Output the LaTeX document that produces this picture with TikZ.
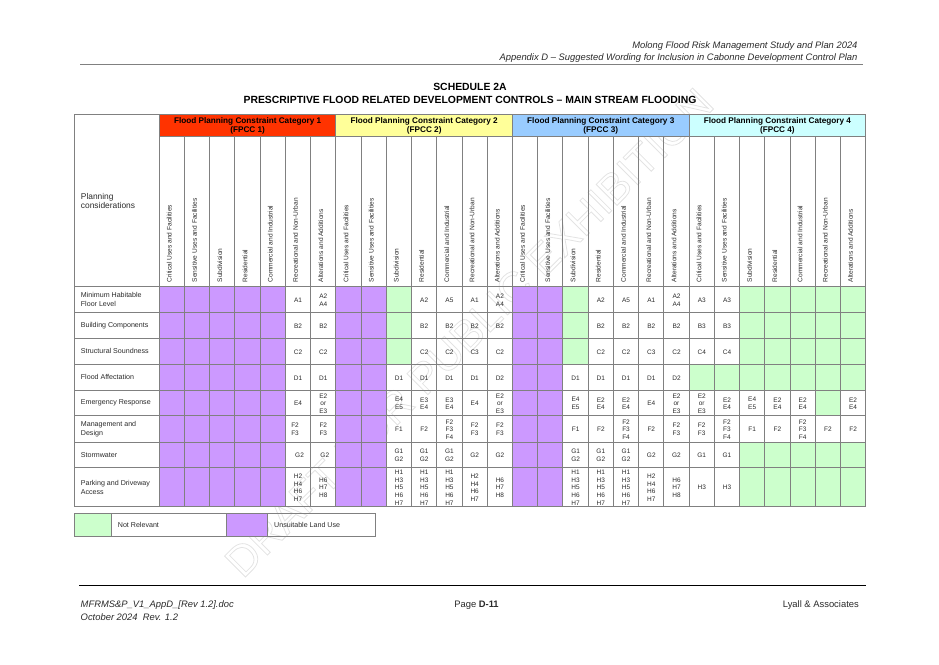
\documentclass[tikz,border=0pt]{standalone}
\usepackage{fontspec}
\setmainfont{Liberation Sans}
\definecolor{unsuit}{HTML}{CC99FF}
\definecolor{notrel}{HTML}{CCFFCC}
\definecolor{catone}{HTML}{FF3300}
\definecolor{cattwo}{HTML}{FFFF99}
\definecolor{catthree}{HTML}{99CCFF}
\definecolor{catfour}{HTML}{CCFFFF}
\definecolor{gridgray}{HTML}{808080}
\definecolor{inkgray}{HTML}{2A2A2A}
\tikzset{
    cellnode/.style={inner sep=0pt, align=center, text=inkgray, font=\fontsize{6.5}{7.7}\selectfont},
    usenode/.style={inner sep=0pt, rotate=90, anchor=west, text=inkgray, font=\fontsize{6.6}{8}\selectfont},
    rownode/.style={inner sep=0pt, anchor=west, align=left, text=inkgray, font=\fontsize{7.1}{9}\selectfont},
    catnode/.style={inner sep=0pt, align=center, font=\bfseries\fontsize{8.2}{9}\selectfont},
    titlenode/.style={inner sep=0pt, font=\bfseries\fontsize{10.4}{13}\selectfont},
    headnode/.style={inner sep=0pt, anchor=east, text=inkgray, font=\itshape\fontsize{9.4}{11}\selectfont},
    footnode/.style={inner sep=0pt, text=inkgray, font=\fontsize{9.4}{11}\selectfont},
    gridline/.style={draw=gridgray, line width=1pt}
}
\def\tagP{P}
\def\tagN{N}
% one row of the table: number, top, bottom, cells
\newcommand{\cellrow}[4]{%
    \foreach \t [count=\c] in {#4} {
        \pgfmathsetmacro{\xa}{159.3+25.23*(\c-1)}
        \pgfmathsetmacro{\xb}{\xa+25.23}
        \ifx\t\tagP
            \fill[unsuit] (\xa,#2) rectangle (\xb,#3);
        \else\ifx\t\tagN
            \fill[notrel] (\xa,#2) rectangle (\xb,#3);
        \else
            \node[cellnode] (cell#1-\c) at ({(\xa+\xb)/2},{(#2+#3)/2+0.6}) {\t};
        \fi\fi
    }
}
\begin{document}
\begin{tikzpicture}[x=1pt,y=-1pt]
    \useasboundingbox (0,0) rectangle (939,664);
    % Watermark
    \node[inner sep=0pt, rotate=45, font=\fontsize{43}{43}\selectfont] (mark) at (469,332.5)
        {\special{pdf:code q 1 Tr 0.8 w 0.89 G}DRAFT FOR PUBLIC EXHIBITION\special{pdf:code Q}};
    % Page head
    \node[headnode] (headone) at (857.7,45.7) {Molong Flood Risk Management Study and Plan 2024};
    \node[headnode] (headtwo) at (857.7,58) {Appendix D – Suggested Wording for Inclusion in Cabonne Development Control Plan};
    \draw[gridgray, line width=1.2pt] (80,64.7) -- (863,64.7);
    \node[titlenode] (titleone) at (470,86.7) {SCHEDULE 2A};
    \node[titlenode] (titletwo) at (470,100) {PRESCRIPTIVE FLOOD RELATED DEVELOPMENT CONTROLS – MAIN STREAM FLOODING};
    % Category headers
    \foreach \n/\col/\xa/\xb in {1/catone/159.3/335.9, 2/cattwo/335.9/512.5, 3/catthree/512.5/689.1, 4/catfour/689.1/865.7} {
        \fill[\col] (\xa,114.7) rectangle (\xb,136.3);
        \node[catnode] (cat\n) at ({(\xa+\xb)/2},126.3) {Flood Planning Constraint Category \n\\(FPCC \n)};
    }
    \node[inner sep=0pt, anchor=west, align=left, text=inkgray, font=\fontsize{8.4}{9.7}\selectfont] (plan) at (80.7,201) {Planning\\considerations};
    % Land uses
    \foreach \g in {0,7,14,21} {
        \foreach \u [count=\i from 0] in {Critical Uses and Facilities, Sensitive Uses and Facilities, Subdivision, Residential,
            Commercial and Industrial, Recreational and Non-Urban, Alterations and Additions} {
            \node[usenode] (use\g-\i) at ({159.3+25.23*(\g+\i)+10},282.5) {\u};
        }
    }
    % Table cells
    \cellrow{1}{286.3}{312.3}{P,P,P,P,P,A1,A2\\A4,P,P,N,A2,A5,A1,A2\\A4,P,P,N,A2,A5,A1,A2\\A4,A3,A3,N,N,N,N,N}
    \cellrow{2}{312.3}{338.3}{P,P,P,P,P,B2,B2,P,P,N,B2,B2,B2,B2,P,P,N,B2,B2,B2,B2,B3,B3,N,N,N,N,N}
    \cellrow{3}{338.3}{364.3}{P,P,P,P,P,C2,C2,P,P,N,C2,C2,C3,C2,P,P,N,C2,C2,C3,C2,C4,C4,N,N,N,N,N}
    \cellrow{4}{364.3}{390.3}{P,P,P,P,P,D1,D1,P,P,D1,D1,D1,D1,D2,P,P,D1,D1,D1,D1,D2,N,N,N,N,N,N,N}
    \cellrow{5}{390.3}{415.7}{P,P,P,P,P,E4,E2\\or\\E3,P,P,E4\\E5,E3\\E4,E3\\E4,E4,E2\\or\\E3,P,P,E4\\E5,E2\\E4,E2\\E4,E4,E2\\or\\E3,E2\\or\\E3,E2\\E4,E4\\E5,E2\\E4,E2\\E4,N,E2\\E4}
    \cellrow{6}{415.7}{442}{P,P,P,P,P,\hspace*{-6pt}F2\\\hspace*{-6pt}F3,F2\\F3,P,P,F1,F2,F2\\F3\\F4,F2\\F3,F2\\F3,P,P,F1,F2,F2\\F3\\F4,F2,F2\\F3,F2\\F3,F2\\F3\\F4,F1,F2,F2\\F3\\F4,F2,F2}
    \cellrow{7}{442}{467.7}{P,P,P,P,P,\hspace*{3pt}G2,\hspace*{3pt}G2,P,P,G1\\G2,G1\\G2,G1\\G2,G2,G2,P,P,G1\\G2,G1\\G2,G1\\G2,G2,G2,G1,G1,N,N,N,N,N}
    \cellrow{8}{467.7}{506.3}{P,P,P,P,P,H2\\H4\\H6\\H7,H6\\H7\\H8,P,P,H1\\H3\\H5\\H6\\H7,H1\\H3\\H5\\H6\\H7,H1\\H3\\H5\\H6\\H7,H2\\H4\\H6\\H7,H6\\H7\\H8,P,P,H1\\H3\\H5\\H6\\H7,H1\\H3\\H5\\H6\\H7,H1\\H3\\H5\\H6\\H7,H2\\H4\\H6\\H7,H6\\H7\\H8,H3,H3,N,N,N,N,N}
    % Row names
    \foreach \n/\y/\txt in {1/299.2/Minimum Habitable\\Floor Level, 2/325.2/Building Components, 3/351.2/Structural Soundness,
        4/377.2/Flood Affectation, 5/403/Emergency Response, 6/428.8/Management and\\Design, 7/454.8/Stormwater, 8/487/Parking and Driveway\\Access} {
        \node[rownode] (row\n) at (80.7,\y) {\txt};
    }
    % Grid
    \draw[gridline] (74.3,114.7) rectangle (865.7,506.3);
    \draw[gridline] (159.3,114.7) -- (159.3,506.3);
    \draw[gridline] (159.3,136.3) -- (865.7,136.3);
    \foreach \y in {286.3,312.3,338.3,364.3,390.3,415.7,442,467.7} {
        \draw[gridline] (74.3,\y) -- (865.7,\y);
    }
    \foreach \i in {1,...,27} {
        \draw[gridline] ({159.3+25.23*\i},136.3) -- ({159.3+25.23*\i},506.3);
    }
    \foreach \x in {335.9,512.5,689.1} {
        \draw[gridline] (\x,114.7) -- (\x,136.3);
    }
    % Legend
    \fill[notrel] (74.3,513.3) rectangle (111.7,536);
    \fill[unsuit] (226.7,513.3) rectangle (267.3,536);
    \draw[gridline] (74.3,513.3) rectangle (375.3,536);
    \draw[gridline] (111.7,513.3) -- (111.7,536);
    \draw[gridline] (226.7,513.3) -- (226.7,536);
    \draw[gridline] (267.3,513.3) -- (267.3,536);
    \node[rownode] (notrelevant) at (117.7,524.6) {Not Relevant};
    \node[rownode] (unsuitable) at (274,524.6) {Unsuitable Land Use};
    % Page foot
    \draw[black, line width=1pt] (79,585.3) -- (865.5,585.3);
    \node[footnode, anchor=west, font=\itshape\fontsize{9.4}{11}\selectfont] (docname) at (80.5,605) {MFRMS\&P\_V1\_AppD\_[Rev 1.2].doc};
    \node[footnode, anchor=west, font=\itshape\fontsize{9.4}{11}\selectfont] (docdate) at (80.5,617) {October 2024\ \ Rev. 1.2};
    \node[footnode] (pagenum) at (476.5,605) {Page \textbf{D-11}};
    \node[footnode, anchor=east] (firm) at (859,605) {Lyall \& Associates};
\end{tikzpicture}
\end{document}
